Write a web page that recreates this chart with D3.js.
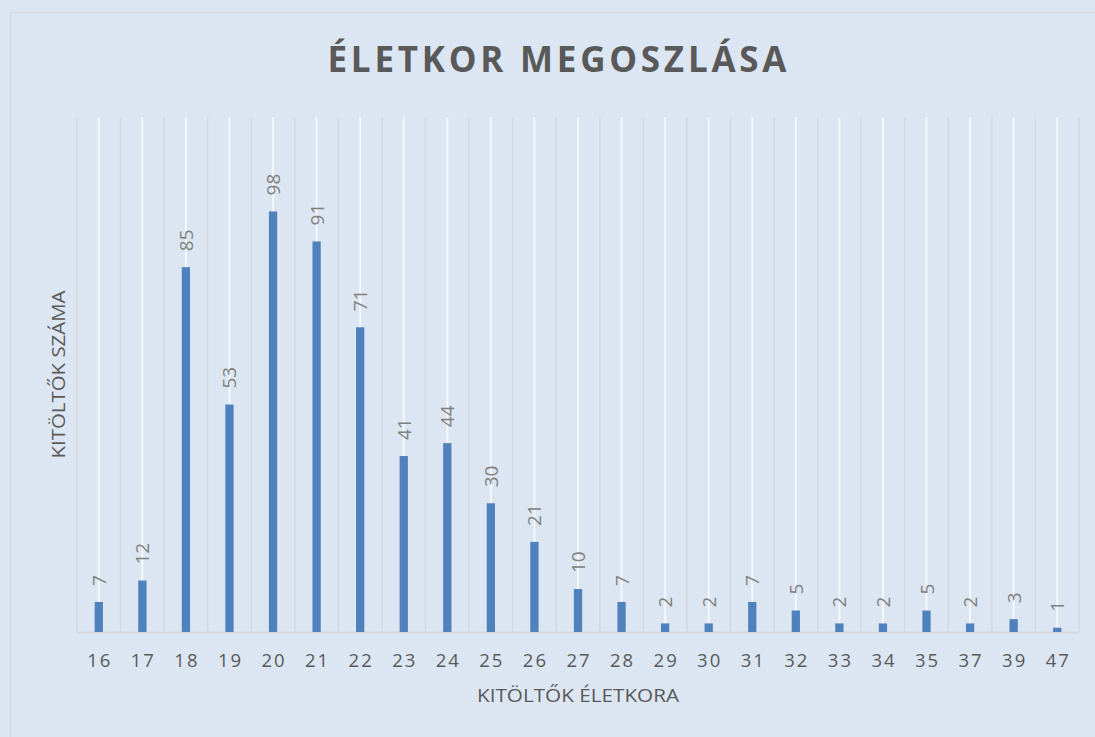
<!DOCTYPE html>
<html><head><meta charset="utf-8">
<script src="https://cdn.jsdelivr.net/npm/d3@7"></script>
<style>
html,body{margin:0;padding:0;background:#dce6f2;}
svg{display:block;font-family:"Open Sans",sans-serif;}
</style></head>
<body>
<svg id="chart" width="1095" height="737"></svg>
<script>
const categories = ["16","17","18","19","20","21","22","23","24","25","26","27","28","29","30","31","32","33","34","35","37","39","47"];
const values = [7,12,85,53,98,91,71,41,44,30,21,10,7,2,2,7,5,2,2,5,2,3,1];
const yDomain = [0,120];
const titleText = "ÉLETKOR MEGOSZLÁSA";
const xTitle = "KITÖLTŐK ÉLETKORA";
const yTitle = "KITÖLTŐK SZÁMA";

const svg = d3.select("#chart");
const W = 1095, H = 737;
const m = {left:77, right:1079, top:117, bottom:632};

svg.append("rect").attr("width",W).attr("height",H).attr("fill","#dce6f2");
svg.append("rect").attr("x",10.5).attr("y",12.5).attr("width",W+20).attr("height",H+20)
  .attr("fill","none").attr("stroke","#d6d9dd").attr("stroke-width",1.5);

const x = d3.scaleBand().domain(categories).range([m.left,m.right]).paddingInner(0.81).paddingOuter(0.405);
const y = d3.scaleLinear().domain(yDomain).range([m.bottom,m.top]);
const step = x.step();
const cx = d => x(d) + x.bandwidth()/2;

const g = svg.append("g");
g.selectAll("line.c").data(categories).join("line")
  .attr("x1",d=>cx(d)).attr("x2",d=>cx(d)).attr("y1",m.top).attr("y2",m.bottom)
  .attr("stroke","#f4f6f9").attr("stroke-width",2);
const bounds = d3.range(categories.length+1).map(i => m.left + i*step);
g.selectAll("line.b").data(bounds).join("line")
  .attr("x1",d=>d).attr("x2",d=>d).attr("y1",m.top).attr("y2",m.bottom)
  .attr("stroke","#d5d8dc").attr("stroke-width",1.5);

svg.append("line").attr("x1",m.left).attr("x2",m.right).attr("y1",m.bottom+0.5).attr("y2",m.bottom+0.5)
  .attr("stroke","#d5d8dc").attr("stroke-width",2);

svg.selectAll("rect.bar").data(values).join("rect")
  .attr("x",(d,i)=>x(categories[i])).attr("width",x.bandwidth())
  .attr("y",d=>y(d)).attr("height",d=>y(0)-y(d))
  .attr("fill","#4f81bd");

svg.selectAll("text.lbl").data(values).join("text")
  .attr("transform",(d,i)=>`translate(${cx(categories[i])+7},${y(d)-16}) rotate(-90)`)
  .attr("text-anchor","start").attr("font-size",19).attr("fill","#808080")
  .text(d=>d);

const xAxis = d3.axisBottom(x).tickSize(0).tickPadding(0);
const ax = svg.append("g").attr("transform",`translate(0,${m.bottom})`).call(xAxis);
ax.select(".domain").remove();
ax.selectAll("text").attr("y",34.5).attr("dy",0).attr("font-size",18.5).attr("fill","#595959")
  .attr("font-family","'Open Sans',sans-serif").attr("letter-spacing","2px").attr("dx","1px");

svg.append("text").attr("x",557).attr("y",72).attr("text-anchor","middle")
  .attr("font-size",35).attr("font-weight","bold").attr("fill","#595959")
  .attr("textLength",459).attr("lengthAdjust","spacing").text(titleText);

svg.append("text").attr("x",(m.left+m.right)/2).attr("y",702).attr("text-anchor","middle")
  .attr("font-size",18.5).attr("fill","#595959").attr("textLength",202).attr("lengthAdjust","spacingAndGlyphs").text(xTitle);
svg.append("text").attr("transform",`translate(65,${(m.top+m.bottom)/2}) rotate(-90)`).attr("text-anchor","middle")
  .attr("font-size",18.5).attr("fill","#595959").attr("textLength",168).attr("lengthAdjust","spacingAndGlyphs").text(yTitle);
</script>
</body></html>
